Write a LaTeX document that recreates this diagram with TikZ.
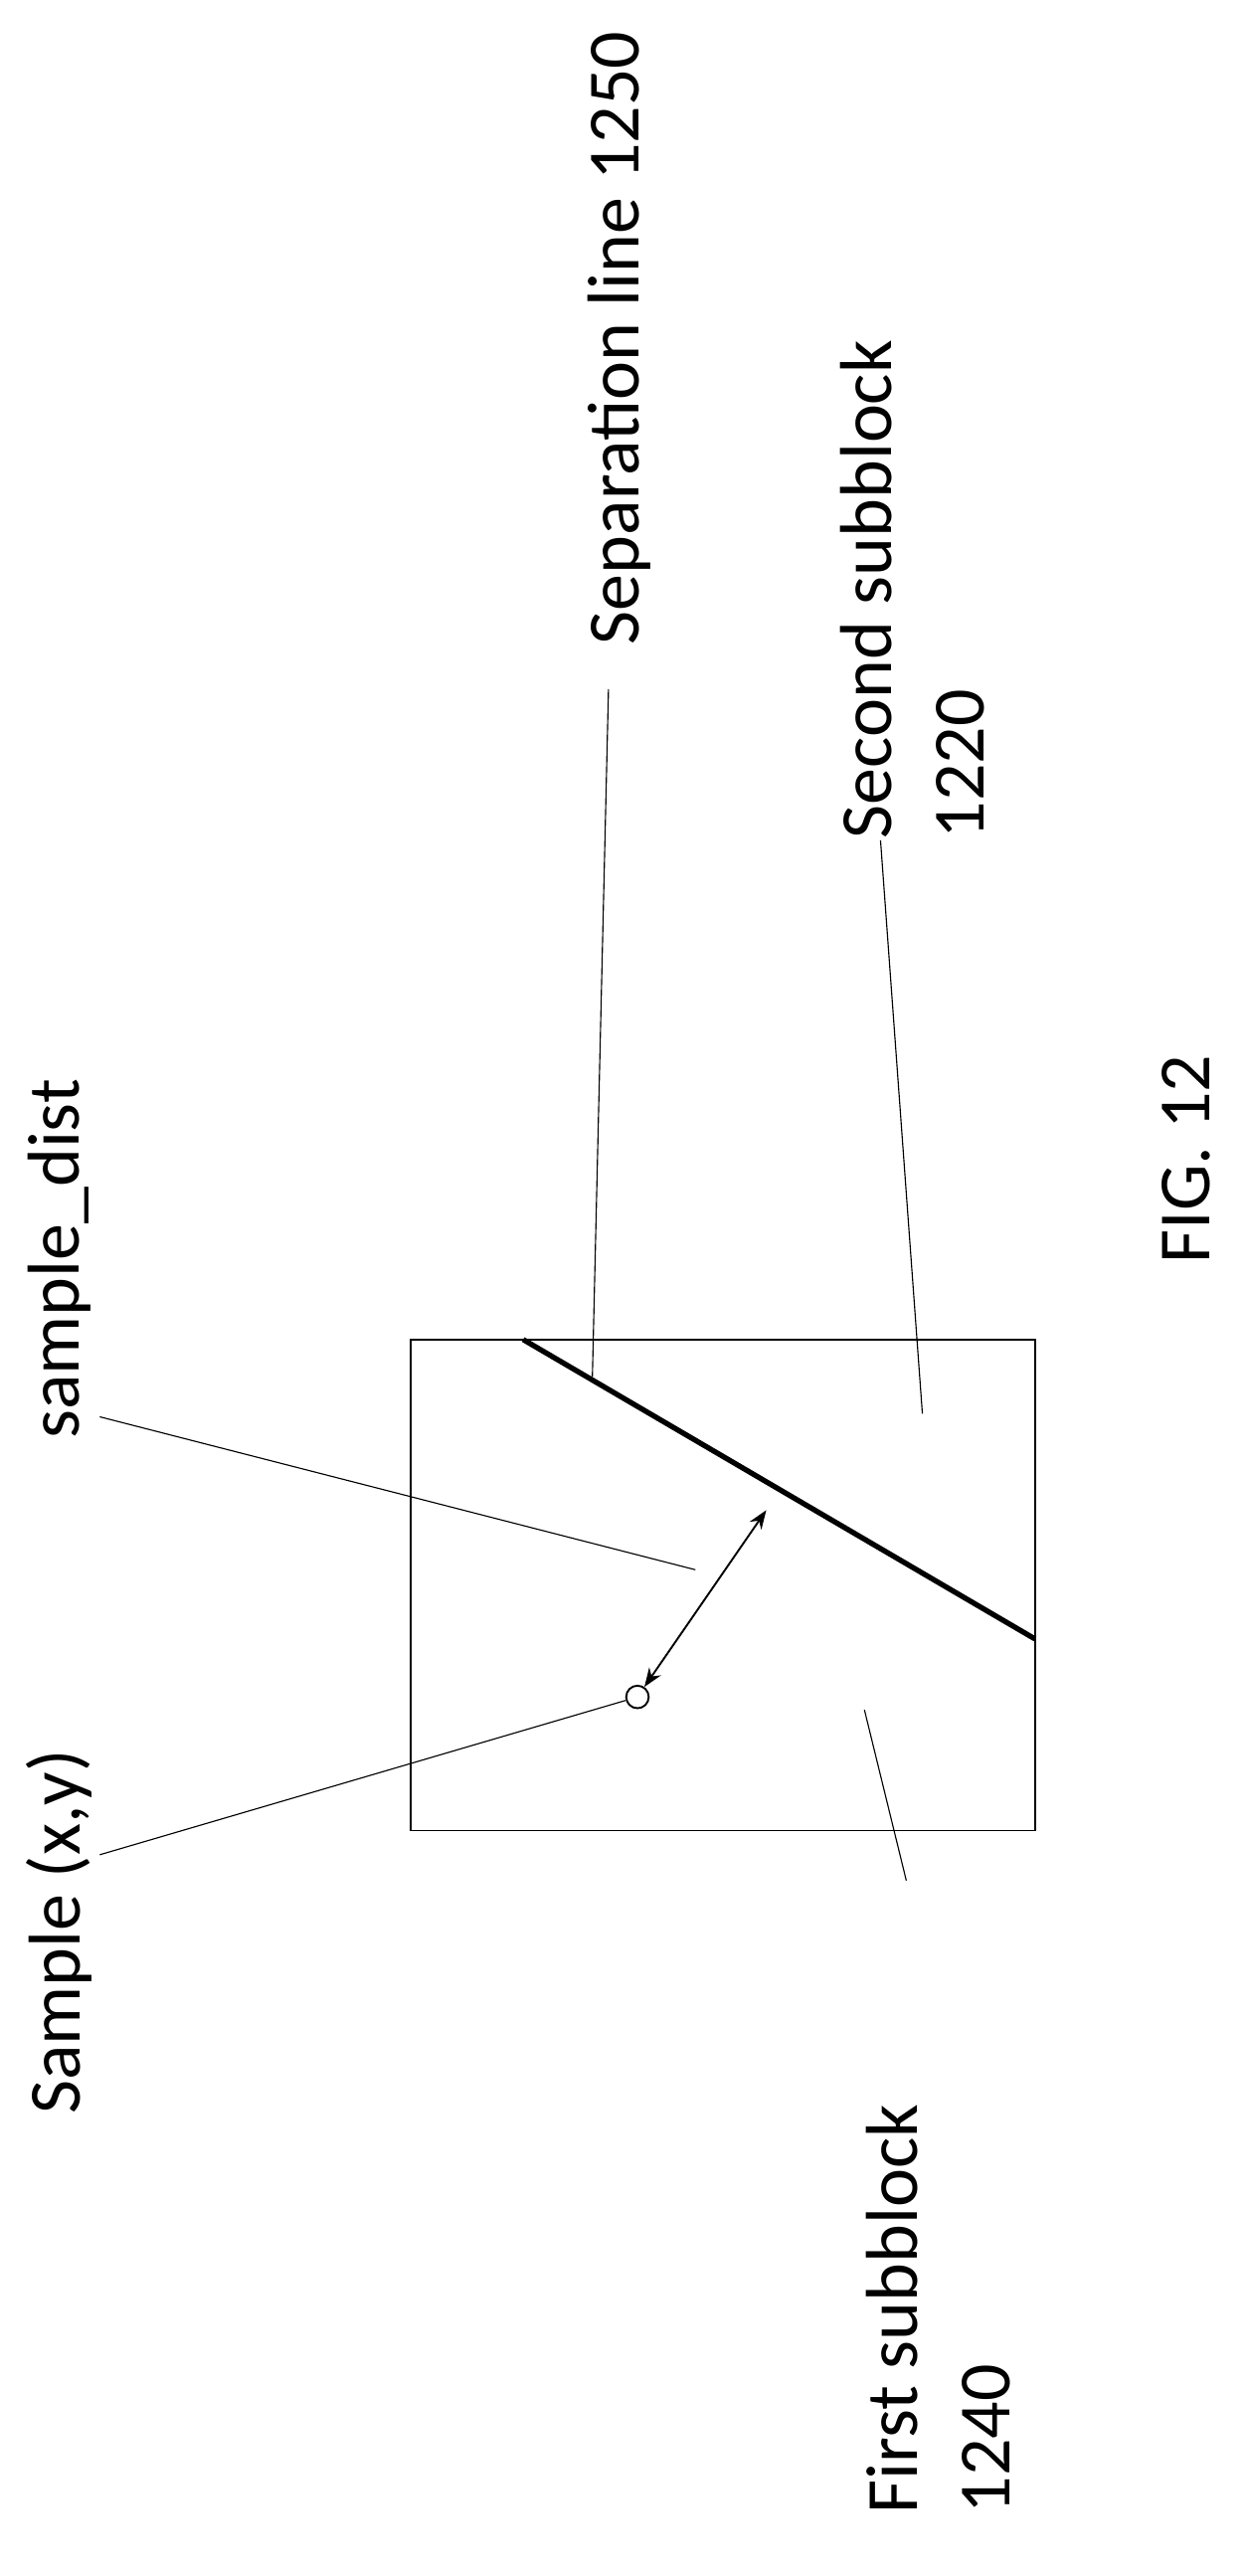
\documentclass[tikz,border=0pt]{standalone}
\usepackage{fontspec}
\setmainfont{Carlito}
\usetikzlibrary{arrows.meta}
\tikzset{
  lbl/.style={rotate=90, inner sep=0pt, font=\fontsize{39}{49}\selectfont},
  leader/.style={line width=0.6pt},
}
\begin{document}
\begin{tikzpicture}[x=0.03cm, y=-0.03cm]
   \useasboundingbox (0,0) rectangle (775,1600);

   % block and its corners
   \coordinate (b0) at (255,832);
   \coordinate (b1) at (643,1137);
   \draw[line width=1pt] (b0) rectangle (b1);

   % separation line
   \coordinate (s0) at (325,832);
   \coordinate (s1) at (643,1018);
   \draw[line width=2.8pt] (s0) -- (s1);

   % sample and distance
   \node[circle, draw, line width=1pt, fill=white, minimum size=0.42cm, inner sep=0pt] (smp) at (396,1054) {};
   \coordinate (foot) at (476,938);
   \draw[{Stealth[length=10pt]}-{Stealth[length=10pt]}, line width=1pt] (smp) -- (foot);

   % labels
   \node[lbl] (tsmp)  at (37,1200) {Sample (x,y)};
   \node[lbl] (tdist) at (37,782)  {sample\_dist};
   \node[lbl] (tsep)  at (385,210) {Separation line 1250};
   \node[lbl, align=left] (tsec) at (567,366) {Second subblock\\1220};
   \node[lbl, align=left] (tfir) at (583,1434) {First subblock\\1240};
   \node[lbl] (tfig)  at (737,720) {FIG. 12};

   % leaders
   \draw[leader] (62,1152) -- (smp);
   \draw[leader] (62,880) -- (432,975);
   \draw[leader] (378,428) -- (368,855);
   \draw[leader] (547,522) -- (573,878);
   \draw[leader] (563,1168) -- (537,1062);
\end{tikzpicture}
\end{document}
